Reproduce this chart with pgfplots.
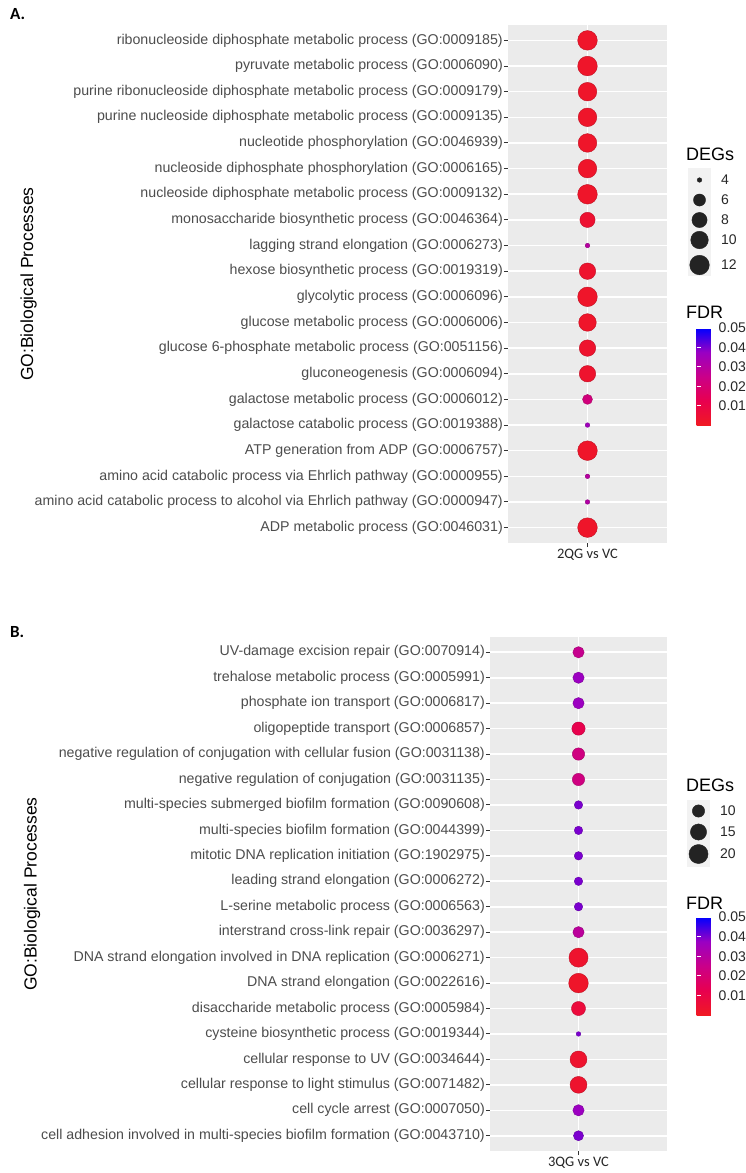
\documentclass[border=0pt]{standalone}
\usepackage{pgfplots}
\pgfplotsset{compat=1.18}
\usepackage{fontspec}
\setmainfont{Liberation Sans}
\newfontfamily\carlito{Carlito}
\usetikzlibrary{calc}
\definecolor{panelbg}{RGB}{235,235,235}
\definecolor{keybg}{RGB}{242,242,242}
\definecolor{grey30}{RGB}{77,77,77}
\definecolor{grey20}{RGB}{51,51,51}
\definecolor{keydot}{RGB}{35,35,35}
\definecolor{legtext}{RGB}{40,40,40}

\pgfplotsset{
  fdrmap/.style={colormap={fdr}{rgb255(0cm)=(240,25,35); rgb255(1cm)=(232,0,79); rgb255(2cm)=(202,0,137); rgb255(3cm)=(154,0,195); rgb255(4cm)=(0,0,255)}},
  sizeA/.style={visualization depends on={2.3+7.5*sqrt((\thisrow{deg}-4)/8) \as \msize},
    scatter/@pre marker code/.append style={/tikz/mark size=\msize}},
  sizeB/.style={visualization depends on={2.3+7.5*sqrt((\thisrow{deg}-6)/15) \as \msize},
    scatter/@pre marker code/.append style={/tikz/mark size=\msize}},
  ggpanel/.style={
    scale only axis, anchor=north west,
    xmin=0.4, xmax=1.6, ymin=0.4, ymax=20.6,
    axis background/.style={fill=panelbg},
    axis line style={draw=none},
    xtick={1}, ytick={1,...,20},
    grid=major, major grid style={white, line width=1.6pt},
    tick pos=left, tick align=outside, major tick length=4pt,
    tick style={grey20, line width=1pt},
    yticklabel style={font=\fontsize{14.2}{16}\selectfont, text=grey30, inner sep=1pt},
    xticklabel style={font=\carlito\fontsize{14.5}{16}\selectfont, text=black!85, inner sep=1.5pt},
    fdrmap, point meta min=0, point meta max=0.05,
    colorbar,
  },
  ggbar/.style={
    anchor=north west, width=20pt,
    ytick={0.01,0.02,0.03,0.04,0.05},
    yticklabel pos=right, ytick pos=both, tick align=inside,
    major tick length=4pt, ytick style={white, line width=1pt},
    axis line style={draw=none}, scaled y ticks=false,
    yticklabel style={font=\fontsize{14}{16}\selectfont, text=legtext, inner sep=2pt,
      /pgf/number format/.cd, fixed, fixed zerofill, precision=2, assume math mode=true},
  },
  gglegend/.style={
    scale only axis, anchor=north west, y dir=reverse,
    axis background/.style={fill=keybg}, axis line style={draw=none},
    xmin=0, xmax=23, xtick=\empty,
    yticklabel pos=right, major tick length=0pt, tick style={draw=none},
    yticklabel style={font=\fontsize{14}{16}\selectfont, text=legtext, anchor=west, inner sep=0pt, xshift=10pt},
  },
}

\begin{document}
\begin{tikzpicture}
\useasboundingbox (0,0) rectangle (745pt,-1173pt);
\fill[white] (0,0) rectangle (745pt,-1173pt);

% ---------------- Panel A ----------------
\node[anchor=west, inner sep=0pt, font=\carlito\bfseries\fontsize{17}{20}\selectfont] at (10pt,-14pt) {A.};
\node[rotate=90, inner sep=0pt, font=\fontsize{17.5}{20}\selectfont] at (28.5pt,-284pt) {GO:Biological Processes};

\begin{axis}[ggpanel,
  at={(508pt,-25pt)}, width=159pt, height=518pt,
  xticklabels={2QG vs VC},
  yticklabels={ADP metabolic process (GO:0046031),
    amino acid catabolic process to alcohol via Ehrlich pathway (GO:0000947),
    amino acid catabolic process via Ehrlich pathway (GO:0000955),
    ATP generation from ADP (GO:0006757),
    galactose catabolic process (GO:0019388),
    galactose metabolic process (GO:0006012),
    gluconeogenesis (GO:0006094),
    glucose 6-phosphate metabolic process (GO:0051156),
    glucose metabolic process (GO:0006006),
    glycolytic process (GO:0006096),
    hexose biosynthetic process (GO:0019319),
    lagging strand elongation (GO:0006273),
    monosaccharide biosynthetic process (GO:0046364),
    nucleoside diphosphate metabolic process (GO:0009132),
    nucleoside diphosphate phosphorylation (GO:0006165),
    nucleotide phosphorylation (GO:0046939),
    purine nucleoside diphosphate metabolic process (GO:0009135),
    purine ribonucleoside diphosphate metabolic process (GO:0009179),
    pyruvate metabolic process (GO:0006090),
    ribonucleoside diphosphate metabolic process (GO:0009185)},
  colorbar style={ggbar, at={($(parent axis.north east)+(21pt,-303pt)$)}, height=97pt},
]
\addplot[scatter, only marks, mark=*, scatter src=explicit, sizeA]
  table[x=x, y=y, meta=fdr] {
x y deg fdr
1 20 12 0.002
1 19 12 0.002
1 18 11 0.002
1 17 11 0.002
1 16 11 0.002
1 15 11 0.002
1 14 12 0.002
1 13 8 0.004
1 12 4 0.030
1 11 9 0.003
1 10 12 0.002
1 9 10 0.002
1 8 9 0.003
1 7 9 0.003
1 6 5 0.022
1 5 4 0.036
1 4 12 0.002
1 3 4 0.030
1 2 4 0.031
1 1 12 0.002
};
\end{axis}

\node[anchor=west, inner sep=0pt, font=\fontsize{18}{20}\selectfont] at (686pt,-154pt) {DEGs};
\begin{axis}[gglegend, at={(688pt,-168pt)}, width=23pt, height=108pt,
  ymin=168, ymax=276, ytick={180,200,220,240,265}, yticklabels={4,6,8,10,12}]
\addplot[scatter, only marks, mark=*, scatter src=explicit,
  scatter/use mapped color={draw=keydot, fill=keydot}, sizeA]
  table[x=x, y=y, meta=deg] {
x y deg
11.5 180 4
11.5 200 6
11.5 220 8
11.5 240 10
11.5 265 12
};
\end{axis}
\node[anchor=west, inner sep=0pt, font=\fontsize{18}{20}\selectfont] at (686pt,-312pt) {FDR};

% ---------------- Panel B ----------------
\node[anchor=west, inner sep=0pt, font=\carlito\bfseries\fontsize{17}{20}\selectfont] at (10pt,-632pt) {B.};
\node[rotate=90, inner sep=0pt, font=\fontsize{17.5}{20}\selectfont] at (32pt,-894pt) {GO:Biological Processes};

\begin{axis}[ggpanel,
  at={(490pt,-637pt)}, width=177pt, height=514pt,
  xticklabels={3QG vs VC},
  yticklabels={cell adhesion involved in multi-species biofilm formation (GO:0043710),
    cell cycle arrest (GO:0007050),
    cellular response to light stimulus (GO:0071482),
    cellular response to UV (GO:0034644),
    cysteine biosynthetic process (GO:0019344),
    disaccharide metabolic process (GO:0005984),
    DNA strand elongation (GO:0022616),
    DNA strand elongation involved in DNA replication (GO:0006271),
    interstrand cross-link repair (GO:0036297),
    L-serine metabolic process (GO:0006563),
    leading strand elongation (GO:0006272),
    mitotic DNA replication initiation (GO:1902975),
    multi-species biofilm formation (GO:0044399),
    multi-species submerged biofilm formation (GO:0090608),
    negative regulation of conjugation (GO:0031135),
    negative regulation of conjugation with cellular fusion (GO:0031138),
    oligopeptide transport (GO:0006857),
    phosphate ion transport (GO:0006817),
    trehalose metabolic process (GO:0005991),
    UV-damage excision repair (GO:0070914)},
  colorbar style={ggbar, at={($(parent axis.north east)+(21pt,-280pt)$)}, height=98pt},
]
\addplot[scatter, only marks, mark=*, scatter src=explicit, sizeB]
  table[x=x, y=y, meta=fdr] {
x y deg fdr
1 20 9 0.026
1 19 9 0.037
1 18 9 0.037
1 17 11 0.012
1 16 10 0.023
1 15 10 0.023
1 14 7 0.040
1 13 7 0.040
1 12 7 0.040
1 11 7 0.040
1 10 7 0.040
1 9 9 0.029
1 8 20 0.003
1 7 21 0.002
1 6 12 0.007
1 5 6 0.040
1 4 16 0.003
1 3 16 0.003
1 2 9 0.037
1 1 8 0.040
};
\end{axis}

\node[anchor=west, inner sep=0pt, font=\fontsize{18}{20}\selectfont] at (686pt,-785pt) {DEGs};
\begin{axis}[gglegend, at={(687pt,-800pt)}, width=23pt, height=67pt,
  ymin=800, ymax=867, ytick={811,832,854}, yticklabels={10,15,20}]
\addplot[scatter, only marks, mark=*, scatter src=explicit,
  scatter/use mapped color={draw=keydot, fill=keydot}, sizeB]
  table[x=x, y=y, meta=deg] {
x y deg
11.5 811 10
11.5 832 15
11.5 854 20
};
\end{axis}
\node[anchor=west, inner sep=0pt, font=\fontsize{18}{20}\selectfont] at (686pt,-903pt) {FDR};
\end{tikzpicture}
\end{document}
